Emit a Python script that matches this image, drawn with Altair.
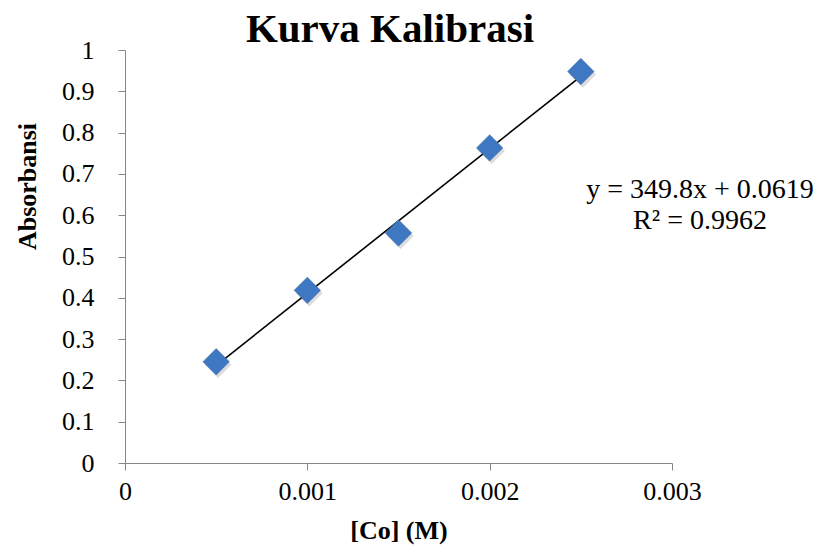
import altair as alt
import pandas as pd

conc = [0.0005, 0.0010, 0.0015, 0.0020, 0.0025]
absorb = [0.245, 0.418, 0.557, 0.763, 0.948]
x_ticks = [0, 0.001, 0.002, 0.003]
y_ticks = [0, 0.1, 0.2, 0.3, 0.4, 0.5, 0.6, 0.7, 0.8, 0.9, 1]
eq_lines = ["y = 349.8x + 0.0619", "R² = 0.9962"]
chart_title = "Kurva Kalibrasi"

df = pd.DataFrame({"x": conc, "y": absorb})
FONT = "Liberation Serif"
GRAY = "#868686"

xs = alt.Scale(domain=[0, 0.003], nice=False)
ys = alt.Scale(domain=[0, 1], nice=False)

x_enc = alt.X("x:Q", scale=xs, axis=alt.Axis(
    values=x_ticks, format="~g", title="[Co] (M)", grid=False,
    domainColor=GRAY, tickColor=GRAY, tickSize=7, labelFontSize=26,
    labelFont=FONT, labelColor="black", labelPadding=8,
    titleFont=FONT, titleFontSize=26, titleFontWeight="bold", titleColor="black",
    titleY=75, titleBaseline="alphabetic", labelFlush=False))
y_enc = alt.Y("y:Q", scale=ys, axis=alt.Axis(
    values=y_ticks, format="~g", title="Absorbansi", grid=False,
    domainColor=GRAY, tickColor=GRAY, tickSize=7, labelFontSize=26,
    labelFont=FONT, labelColor="black", labelPadding=24,
    titleFont=FONT, titleFontSize=26, titleFontWeight="bold", titleColor="black",
    titleX=-90, titleY=136, titleBaseline="alphabetic", titleAngle=-90,
    titleAlign="center", labelFlush=False))

base = alt.Chart(df)

shadow = base.mark_point(shape="diamond", filled=True, size=700, color="#9a9a9a",
                         opacity=0.35, xOffset=2, yOffset=3).encode(x=x_enc, y=y_enc)
pts = base.mark_point(shape="diamond", filled=True, size=700, color="#3F78C2",
                      opacity=1, stroke="#36679f", strokeWidth=0.5).encode(x=x_enc, y=y_enc)
line = base.transform_regression("x", "y", extent=[0.0005, 0.0025]).mark_line(
    color="black", strokeWidth=1.6).encode(x=x_enc, y=y_enc)

def txt(s, size, x, y, weight="normal"):
    return alt.Chart(pd.DataFrame({"t": [s]})).mark_text(
        font=FONT, fontSize=size, fontWeight=weight, color="black",
        align="center", baseline="alphabetic"
    ).encode(text="t:N", x=alt.value(x), y=alt.value(y))

eq = txt(eq_lines[0], 28, 575, 148)
r2 = txt(eq_lines[1], 28, 575, 179)
ttl = txt(chart_title, 41, 265, -8, "bold")

chart = alt.layer(shadow, line, pts, eq, r2, ttl).properties(
    width=547, height=413, background="white",
    view=alt.ViewBackground(strokeOpacity=0, strokeWidth=0),
    autosize=alt.AutoSizeParams(type="none"),
    padding={"left": 117, "top": 42, "right": 142, "bottom": 83},
).configure_view(strokeWidth=0, stroke="transparent")

chart.save("out.html", embed_options={"renderer": "svg", "actions": False})
